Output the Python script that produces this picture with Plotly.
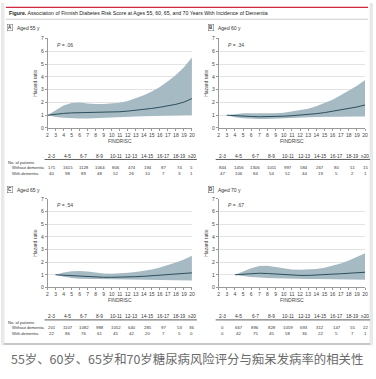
import plotly.graph_objects as go

W, H = 376, 379

# ---------------- data ----------------
findrisc_ticks = list(range(2, 21))
table_groups = ["2-3", "4-5", "6-7", "8-9", "10-11", "12-13", "14-15", "16-17", "18-19", "≥20"]
group_pos = [2.5, 4.5, 6.5, 8.5, 10.5, 12.5, 14.5, 16.5, 18.5, 20]

# Panel A: aged 55
a_x = list(range(2, 21))
a_hr = [1.0, 1.08, 1.14, 1.18, 1.2, 1.2, 1.2, 1.2, 1.22, 1.27, 1.32, 1.38, 1.45, 1.53, 1.62, 1.72, 1.85, 2.02, 2.3]
a_hi = [1.0, 1.4, 1.75, 1.95, 2.0, 1.92, 1.87, 1.88, 1.92, 1.98, 2.1, 2.3, 2.55, 2.85, 3.2, 3.65, 4.15, 4.75, 5.5]
a_lo = [1.0, 0.86, 0.8, 0.76, 0.74, 0.74, 0.75, 0.77, 0.8, 0.83, 0.86, 0.89, 0.92, 0.95, 0.97, 0.99, 1.0, 1.01, 1.02]
a_without = [171, 1615, 1128, 1064, 806, 474, 194, 87, 74, 5]
a_with = [40, 98, 89, 48, 52, 26, 10, 7, 3, 1]

# Panel B: aged 60
b_x = list(range(3, 21))
b_hr = [1.0, 0.95, 0.92, 0.9, 0.88, 0.88, 0.89, 0.92, 0.96, 1.0, 1.05, 1.12, 1.2, 1.3, 1.4, 1.52, 1.64, 1.8]
b_hi = [1.0, 1.1, 1.15, 1.15, 1.13, 1.12, 1.15, 1.2, 1.28, 1.38, 1.5, 1.7, 1.95, 2.2, 2.55, 2.9, 3.3, 3.75]
b_lo = [1.0, 0.84, 0.76, 0.72, 0.7, 0.7, 0.72, 0.74, 0.76, 0.8, 0.83, 0.86, 0.88, 0.9, 0.9, 0.9, 0.9, 0.9]
b_without = [844, 1456, 1306, 1011, 997, 584, 267, 80, 51, 15]
b_with = [47, 106, 84, 54, 52, 44, 19, 5, 2, 1]

# Panel C: aged 65
c_x = list(range(3, 21))
c_hr = [1.0, 0.96, 0.92, 0.88, 0.85, 0.82, 0.8, 0.8, 0.8, 0.82, 0.85, 0.88, 0.92, 0.96, 1.0, 1.05, 1.1, 1.15]
c_hi = [1.0, 1.17, 1.27, 1.3, 1.25, 1.16, 1.1, 1.08, 1.1, 1.15, 1.22, 1.3, 1.42, 1.58, 1.75, 1.97, 2.2, 2.5]
c_lo = [1.0, 0.84, 0.74, 0.68, 0.65, 0.62, 0.61, 0.6, 0.6, 0.6, 0.6, 0.6, 0.6, 0.59, 0.58, 0.57, 0.56, 0.55]
c_without = [201, 1107, 1082, 988, 1052, 640, 285, 97, 53, 36]
c_with = [22, 86, 76, 61, 45, 42, 20, 7, 5, 0]

# Panel D: aged 70
d_x = list(range(4, 21))
d_hr = [1.0, 1.05, 1.1, 1.12, 1.1, 1.05, 1.0, 0.97, 0.95, 0.95, 0.97, 1.0, 1.04, 1.08, 1.12, 1.16, 1.2]
d_hi = [1.0, 1.28, 1.52, 1.7, 1.72, 1.62, 1.5, 1.42, 1.4, 1.4, 1.45, 1.55, 1.7, 1.9, 2.12, 2.4, 2.7]
d_lo = [1.0, 0.9, 0.82, 0.78, 0.75, 0.72, 0.7, 0.68, 0.67, 0.67, 0.67, 0.67, 0.66, 0.65, 0.63, 0.62, 0.6]
d_without = [0, 667, 896, 828, 1059, 693, 312, 147, 55, 22]
d_with = [0, 42, 75, 45, 58, 36, 22, 5, 7, 1]

panel_letters = ["A", "B", "C", "D"]
panel_titles = ["Aged 55 y", "Aged 60 y", "Aged 65 y", "Aged 70 y"]
p_values = [".06", ".34", ".54", ".67"]

title_text = "<b>Figure.</b> Association of Finnish Diabetes Risk Score at Ages 55, 60, 65, and 70 Years With Incidence of Dementia"
caption_text = "55岁、60岁、65岁和70岁糖尿病风险评分与痴呆发病率的相关性"

# ---------------- layout helpers ----------------
FONT = "Liberation Sans"
band_col = "#a6bac4"
line_col = "#2c4f5c"
txt_col = "#444444"

def px_x(p):
    return p / W

def px_y(p):
    return 1 - p / H

# plot areas (pixels): (left, right, top, bottom)
areas = [(47, 193, 36, 127), (220, 368, 36, 127), (47, 193, 199, 289), (220, 368, 199, 289)]
panels = [
    (a_x, a_hr, a_hi, a_lo, a_without, a_with),
    (b_x, b_hr, b_hi, b_lo, b_without, b_with),
    (c_x, c_hr, c_hi, c_lo, c_without, c_with),
    (d_x, d_hr, d_hi, d_lo, d_without, d_with),
]

fig = go.Figure()
shapes = []
annotations = []

for i, (xs, hr, hi, lo, wo, wi) in enumerate(panels):
    n = i + 1
    xa = "x" if n == 1 else f"x{n}"
    ya = "y" if n == 1 else f"y{n}"
    fig.add_trace(go.Scatter(x=xs + xs[::-1], y=hi + lo[::-1], fill="toself", fillcolor=band_col,
                             line=dict(width=0), mode="lines", hoverinfo="skip", showlegend=False,
                             xaxis=xa, yaxis=ya))
    fig.add_trace(go.Scatter(x=xs, y=hr, mode="lines", line=dict(color=line_col, width=1),
                             showlegend=False, xaxis=xa, yaxis=ya))
    L, R, T, B = areas[i]
    axis_common = dict(showline=True, linecolor="#999999", linewidth=0.6, ticks="outside",
                       ticklen=2, tickwidth=0.5, tickcolor="#999999",
                       tickfont=dict(size=5, color=txt_col, family=FONT))
    fig.layout[f"xaxis{'' if n == 1 else n}"] = dict(
        domain=[px_x(L), px_x(R)], range=[2, 20], tickvals=findrisc_ticks, showgrid=False,
        zeroline=False, anchor=ya,
        title=dict(text="FINDRISC", font=dict(size=5, color=txt_col, family=FONT), standoff=2),
        **axis_common)
    fig.layout[f"yaxis{'' if n == 1 else n}"] = dict(
        domain=[px_y(B), px_y(T)], range=[0, 7], tickvals=list(range(0, 8)), showgrid=True,
        gridcolor="#e3e3e3", gridwidth=0.6, zeroline=False, anchor=xa,
        title=dict(text="Hazard ratio", font=dict(size=5, color=txt_col, family=FONT), standoff=3),
        **axis_common)

    # P value
    annotations.append(dict(text=f"<i>P</i> = {p_values[i]}", xref=f"{xa} domain", yref=f"{ya} domain",
                            x=0.05, y=0.93, xanchor="left", yanchor="middle", showarrow=False,
                            font=dict(size=5, color=txt_col, family=FONT)))
    # Panel label
    box_x = 6 if i % 2 == 0 else 209
    lab_y = 25 if i < 2 else 190
    annotations.append(dict(text=f"<b>{panel_letters[i]}</b>", xref="paper", yref="paper",
                            x=px_x(box_x), y=px_y(lab_y), xanchor="left", yanchor="middle",
                            showarrow=False, bordercolor="#666666", borderwidth=0.5, borderpad=0.6,
                            font=dict(size=4.5, color="#333333", family=FONT)))
    annotations.append(dict(text=panel_titles[i], xref="paper", yref="paper",
                            x=px_x(box_x + 8), y=px_y(lab_y), xanchor="left", yanchor="middle",
                            showarrow=False, font=dict(size=5, color="#333333", family=FONT)))

    # table
    head_y = 156 if i < 2 else 319
    for g, gp, v1, v2 in zip(table_groups, group_pos, wo, wi):
        annotations.append(dict(text=g, xref=xa, yref="paper", x=gp, y=px_y(head_y),
                                xanchor="center", yanchor="middle", showarrow=False,
                                font=dict(size=4.8, color="#333333", family=FONT)))
        annotations.append(dict(text=str(v1), xref=xa, yref="paper", x=gp, y=px_y(head_y + 11),
                                xanchor="center", yanchor="middle", showarrow=False,
                                font=dict(size=4.3, color="#333333", family=FONT)))
        annotations.append(dict(text=str(v2), xref=xa, yref="paper", x=gp, y=px_y(head_y + 17),
                                xanchor="center", yanchor="middle", showarrow=False,
                                font=dict(size=4.3, color="#333333", family=FONT)))
    shapes.append(dict(type="line", xref="paper", yref="paper", x0=px_x(L - 3), x1=px_x(R + 5),
                       y0=px_y(head_y + 3), y1=px_y(head_y + 3), line=dict(color="#333333", width=0.8)))
    if i % 2 == 0:
        for txt, dx, dy in [("No. of patients", 5, 6), ("Without dementia", 9, 11), ("With dementia", 9, 17)]:
            annotations.append(dict(text=txt, xref="paper", yref="paper", x=px_x(dx), y=px_y(head_y + dy),
                                    xanchor="left", yanchor="middle", showarrow=False,
                                    font=dict(size=4.1, color="#333333", family=FONT)))

# frame / decorations
shapes += [
    dict(type="rect", xref="paper", yref="paper", x0=0, x1=px_x(3.5), y0=px_y(348), y1=1,
         fillcolor="#e9e9e9", line=dict(width=0), layer="below"),
    dict(type="rect", xref="paper", yref="paper", x0=px_x(372.5), x1=1, y0=px_y(348), y1=1,
         fillcolor="#e9e9e9", line=dict(width=0), layer="below"),
    dict(type="line", xref="paper", yref="paper", x0=px_x(3), x1=px_x(373), y0=px_y(346.5), y1=px_y(346.5),
         line=dict(color="#b5b5b5", width=1.5)),
    dict(type="line", xref="paper", yref="paper", x0=px_x(5), x1=px_x(371), y0=px_y(4.5), y1=px_y(4.5),
         line=dict(color="#d2283d", width=1.3)),
    dict(type="line", xref="paper", yref="paper", x0=px_x(5), x1=px_x(371), y0=px_y(16.5), y1=px_y(16.5),
         line=dict(color="#bbbbbb", width=0.7)),
]
annotations.append(dict(text=title_text, xref="paper", yref="paper", x=px_x(6), y=px_y(10.5),
                        xanchor="left", yanchor="middle", showarrow=False,
                        font=dict(size=5.2, color="#222222", family=FONT)))
annotations.append(dict(text=caption_text, xref="paper", yref="paper", x=px_x(8), y=px_y(362),
                        xanchor="left", yanchor="middle", showarrow=False,
                        font=dict(size=12.4, color="#6a6a6a", family="Noto Sans CJK SC")))

fig.update_layout(width=W, height=H, margin=dict(l=0, r=0, t=0, b=0),
                  paper_bgcolor="white", plot_bgcolor="white",
                  shapes=shapes, annotations=annotations, showlegend=False)

fig.write_html("out.html", config={"displayModeBar": False},
               post_script="document.body.style.margin='0';document.body.style.overflow='hidden';")
